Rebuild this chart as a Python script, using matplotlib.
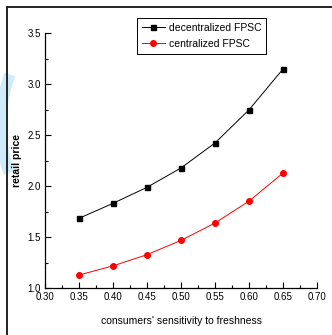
import matplotlib
matplotlib.use("Agg")
import matplotlib.pyplot as plt
from matplotlib.patches import Arc
from matplotlib.lines import Line2D
from matplotlib.ticker import MultipleLocator

# data
sensitivity = [0.35, 0.40, 0.45, 0.50, 0.55, 0.60, 0.65]
price_decentralized = [1.686, 1.833, 1.99, 2.18, 2.425, 2.75, 3.15]
price_centralized = [1.13, 1.22, 1.33, 1.47, 1.64, 1.855, 2.13]

x_ticks = [0.30, 0.35, 0.40, 0.45, 0.50, 0.55, 0.60, 0.65, 0.70]
y_ticks = [1.0, 1.5, 2.0, 2.5, 3.0, 3.5]

narrow = ["Liberation Sans Narrow", "Liberation Sans", "DejaVu Sans"]
regular = ["Liberation Sans", "DejaVu Sans"]

fig = plt.figure(figsize=(3.32, 3.35), dpi=100)

# light blue watermark at the left edge
wm = fig.add_axes([0, 0, 1, 1], zorder=0)
wm.set_xlim(0, 332)
wm.set_ylim(335, 0)
wm.axis("off")
wm.add_patch(Arc((66, 125), 130, 200, theta1=140, theta2=222,
                 color="#cdebfa", lw=8))

# outer frame (top and left only)
wm.add_line(Line2D([7, 332], [7, 7], color="#222222", lw=1.4))
wm.add_line(Line2D([7, 7], [7, 335], color="#222222", lw=1.4))

ax = fig.add_axes([0.1355, 0.1394, 0.8195, 0.7612], zorder=1)
ax.patch.set_alpha(0)

ax.plot(sensitivity, price_decentralized, color="black", lw=0.7,
        marker="s", markersize=3.6, label="decentralized FPSC")
ax.plot(sensitivity, price_centralized, color="red", lw=0.7,
        marker="o", markersize=4.0, label="centralized FPSC")

ax.set_xlim(0.30, 0.70)
ax.set_ylim(1.0, 3.5)
ax.set_xticks(x_ticks)
ax.set_yticks(y_ticks)
ax.set_xticklabels([f"{v:.2f}" for v in x_ticks], family=narrow, fontsize=7)
ax.set_yticklabels([f"{v:.1f}" for v in y_ticks], family=narrow, fontsize=7)
ax.xaxis.set_minor_locator(MultipleLocator(0.025))
ax.yaxis.set_minor_locator(MultipleLocator(0.25))
ax.tick_params(which="major", direction="in", length=4, width=0.8, pad=3)
ax.tick_params(which="minor", direction="in", length=2.5, width=0.8)

for side in ["top", "right"]:
    ax.spines[side].set_visible(False)
for side in ["left", "bottom"]:
    ax.spines[side].set_linewidth(0.9)

ax.set_xlabel("consumers' sensitivity to freshness", family=regular,
              fontsize=7.5, labelpad=10)
ax.set_ylabel("retail price", family=regular, fontsize=7.5,
              fontweight="bold", labelpad=4)

leg = ax.legend(loc="upper left", bbox_to_anchor=(0.338, 1.06),
                borderaxespad=0,
                prop={"family": regular, "size": 7.5}, frameon=True,
                fancybox=False, edgecolor="black", framealpha=1,
                handlelength=2.2, borderpad=0.45, labelspacing=0.6,
                handletextpad=0.4)
leg.get_frame().set_linewidth(0.7)

fig.savefig("out.png", dpi=100)
